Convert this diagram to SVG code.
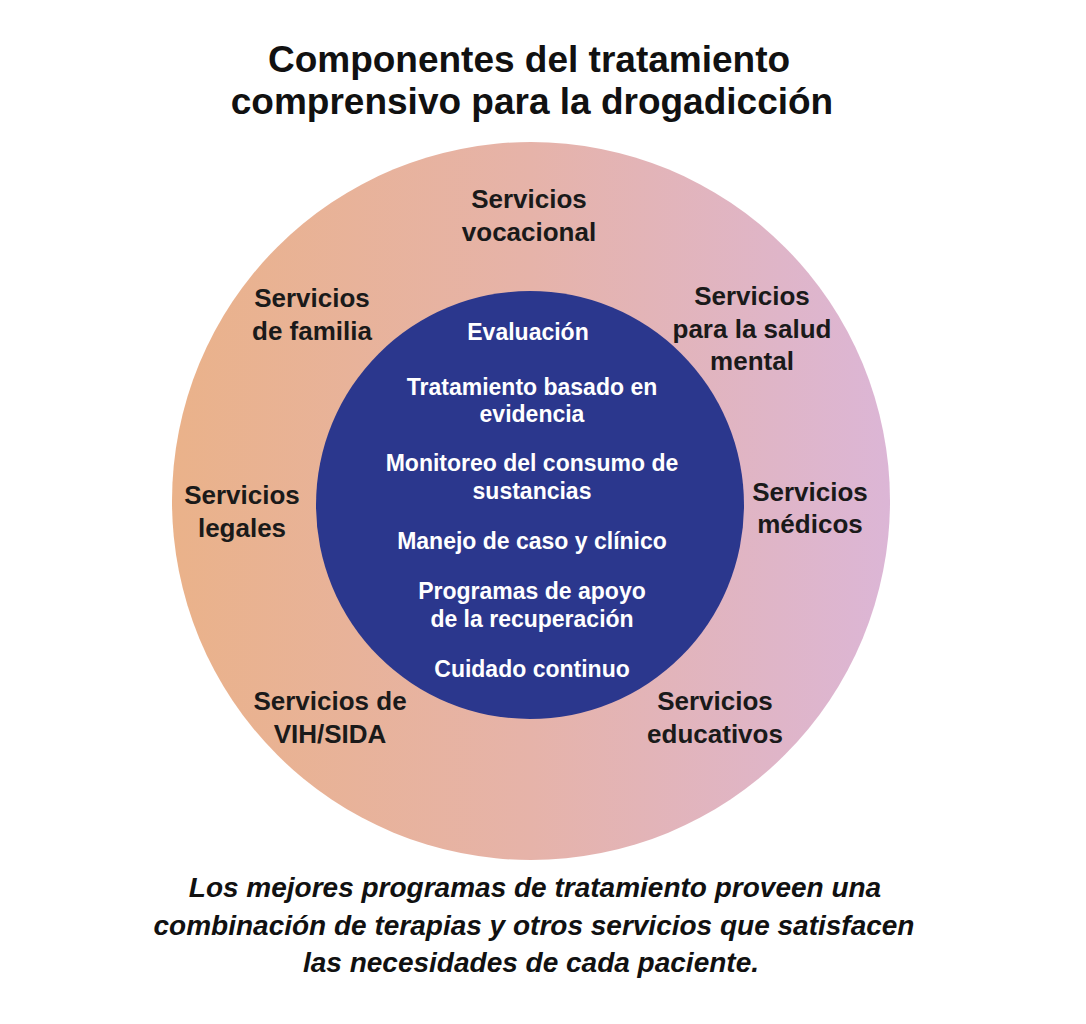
<svg xmlns="http://www.w3.org/2000/svg" width="1086" height="1024" viewBox="0 0 1086 1024">
  <defs>
    <linearGradient id="ring" x1="172" y1="0" x2="890" y2="0" gradientUnits="userSpaceOnUse">
      <stop offset="0" stop-color="#EAB28A"/>
      <stop offset="0.5" stop-color="#E6B3A9"/>
      <stop offset="1" stop-color="#DCB6D6"/>
    </linearGradient>
    <style>
      .title { font-family: "Liberation Sans", Arial, sans-serif; font-weight: bold; font-size: 37px; fill: #111; text-anchor: middle; }
      .outer { font-family: "Liberation Sans", Arial, sans-serif; font-weight: bold; font-size: 26px; fill: #1a1a1a; text-anchor: middle; }
      .inner { font-family: "Liberation Sans", Arial, sans-serif; font-weight: bold; font-size: 23px; fill: #ffffff; text-anchor: middle; }
      .note { font-family: "Liberation Sans", Arial, sans-serif; font-weight: bold; font-style: italic; font-size: 28px; fill: #111; text-anchor: middle; }
    </style>
  </defs>
  <rect width="1086" height="1024" fill="#ffffff"/>

  <g id="title">
    <text class="title" x="529" y="72">Componentes del tratamiento</text>
    <text class="title" x="532" y="114">comprensivo para la drogadicción</text>
  </g>

  <g id="outer-ring">
    <circle cx="531" cy="501" r="359" fill="url(#ring)"/>
  </g>
  <g id="inner-core">
    <circle cx="530" cy="505" r="214" fill="#2B378D"/>
  </g>

  <g id="vocacional">
    <text class="outer" x="529" y="208">Servicios</text>
    <text class="outer" x="529" y="241">vocacional</text>
  </g>
  <g id="familia">
    <text class="outer" x="312" y="307">Servicios</text>
    <text class="outer" x="312" y="340">de familia</text>
  </g>
  <g id="salud-mental">
    <text class="outer" x="752" y="305">Servicios</text>
    <text class="outer" x="752" y="338">para la salud</text>
    <text class="outer" x="752" y="370">mental</text>
  </g>
  <g id="legales">
    <text class="outer" x="242" y="504">Servicios</text>
    <text class="outer" x="242" y="537">legales</text>
  </g>
  <g id="medicos">
    <text class="outer" x="810" y="501">Servicios</text>
    <text class="outer" x="810" y="533">médicos</text>
  </g>
  <g id="vih-sida">
    <text class="outer" x="330" y="710">Servicios de</text>
    <text class="outer" x="330" y="743">VIH/SIDA</text>
  </g>
  <g id="educativos">
    <text class="outer" x="715" y="710">Servicios</text>
    <text class="outer" x="715" y="743">educativos</text>
  </g>

  <g id="core-items">
    <text class="inner" x="528" y="340">Evaluación</text>
    <text class="inner" x="532" y="395">Tratamiento basado en</text>
    <text class="inner" x="532" y="422">evidencia</text>
    <text class="inner" x="532" y="471">Monitoreo del consumo de</text>
    <text class="inner" x="532" y="499">sustancias</text>
    <text class="inner" x="532" y="549">Manejo de caso y clínico</text>
    <text class="inner" x="532" y="599">Programas de apoyo</text>
    <text class="inner" x="532" y="627">de la recuperación</text>
    <text class="inner" x="532" y="677">Cuidado continuo</text>
  </g>

  <g id="note">
    <text class="note" x="535" y="897">Los mejores programas de tratamiento proveen una</text>
    <text class="note" x="534" y="935">combinación de terapias y otros servicios que satisfacen</text>
    <text class="note" x="531" y="972">las necesidades de cada paciente.</text>
  </g>
</svg>
